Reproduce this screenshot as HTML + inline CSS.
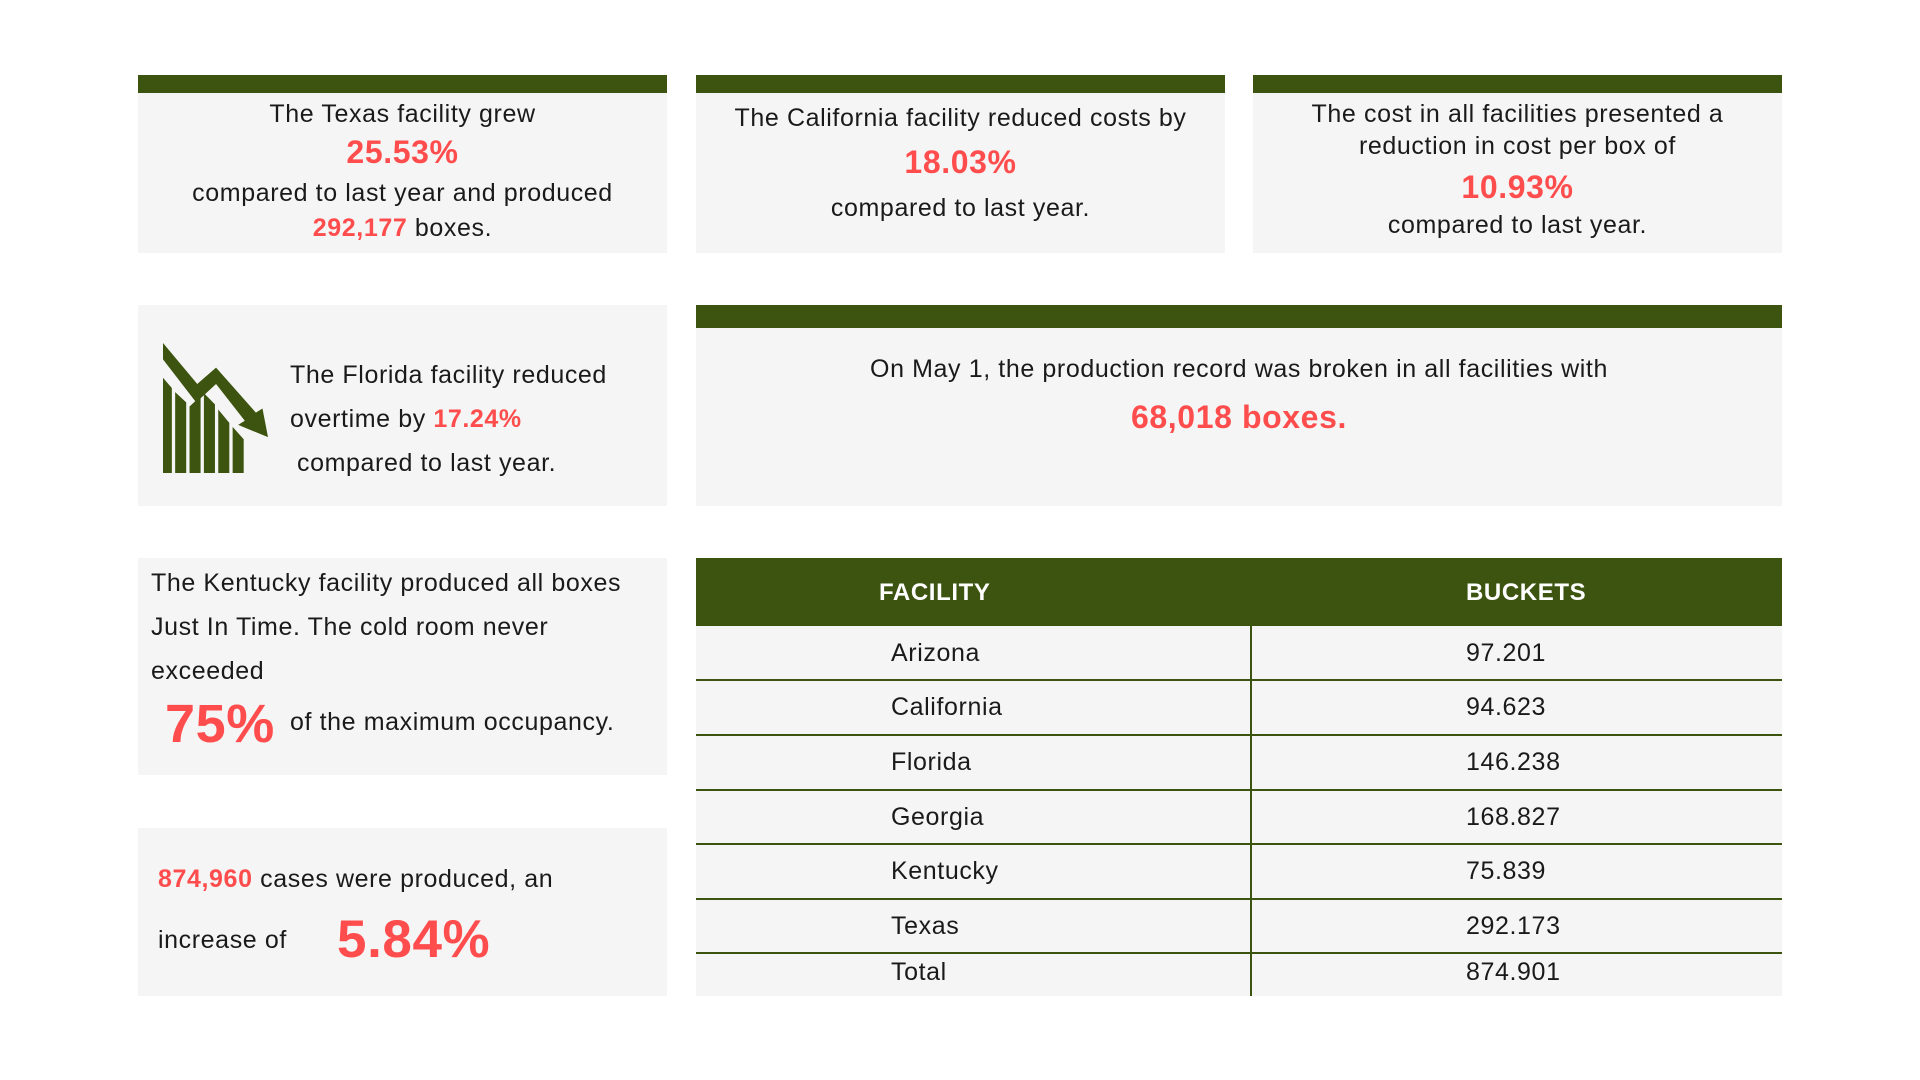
<!DOCTYPE html>
<html><head><meta charset="utf-8"><style>
body{margin:0;width:1920px;height:1080px;background:#fff;font-family:"Liberation Sans",sans-serif;color:#1a1a1a;position:relative;overflow:hidden}
.c{position:absolute;background:#f5f5f5}
.bar{position:absolute;left:0;right:0;top:0;height:18px;background:#3d5410}
.t{position:absolute;left:0;right:0;text-align:center;font-size:25px;line-height:30px;white-space:nowrap;letter-spacing:0.6px}
.r{color:#ff4d4d;font-weight:bold}
.big{font-size:32px}
.a{position:absolute;font-size:25px;line-height:30px;white-space:nowrap;letter-spacing:0.6px}
.hl{position:absolute;left:696px;width:1086px;height:2px;background:#3d5410}
</style></head><body>

<div class="c" style="left:138px;top:75px;width:529px;height:178px">
<div class="bar"></div>
<div class="t" style="top:24px">The Texas facility grew</div>
<div class="t r big" style="top:62px">25.53%</div>
<div class="t" style="top:103px">compared to last year and produced</div>
<div class="t" style="top:138px"><span class="r">292,177</span> boxes.</div>
</div>

<div class="c" style="left:696px;top:75px;width:529px;height:178px">
<div class="bar"></div>
<div class="t" style="top:28px">The California facility reduced costs by</div>
<div class="t r big" style="top:72px">18.03%</div>
<div class="t" style="top:118px">compared to last year.</div>
</div>

<div class="c" style="left:1253px;top:75px;width:529px;height:178px">
<div class="bar"></div>
<div class="t" style="top:24px">The cost in all facilities presented a</div>
<div class="t" style="top:56px">reduction in cost per box of</div>
<div class="t r big" style="top:97px">10.93%</div>
<div class="t" style="top:135px">compared to last year.</div>
</div>

<div class="c" style="left:138px;top:305px;width:529px;height:201px">
<svg style="position:absolute;left:25px;top:38px" width="105" height="130" viewBox="0 0 95 127" preserveAspectRatio="none">
<g fill="#3d5410">
<polygon points="0,34 0,127 8,127 8,44"/>
<polygon points="11,48 11,127 21,127 21,58 "/>
<polygon points="24,62 24,127 34,127 34,52"/>
<polygon points="37,49 37,127 47,127 47,60"/>
<polygon points="50,65 50,127 60,127 60,78"/>
<polygon points="63,82 63,127 73,127 73,94"/>
<polygon points="0,0 0,16 30,58 48,40 74,76 68,80 95,92 90,64 84,68 48,24 31,40"/>
</g></svg>
<div class="a" style="left:152px;top:55px">The Florida facility reduced</div>
<div class="a" style="left:152px;top:99px">overtime by <span class="r">17.24%</span></div>
<div class="a" style="left:159px;top:143px">compared to last year.</div>
</div>

<div class="c" style="left:696px;top:305px;width:1086px;height:201px">
<div class="bar" style="height:23px"></div>
<div class="t" style="top:49px">On May 1, the production record was broken in all facilities with</div>
<div class="t r big" style="top:97px">68,018 boxes.</div>
</div>

<div class="c" style="left:138px;top:558px;width:529px;height:217px">
<div class="a" style="left:13px;top:10px">The Kentucky facility produced all boxes</div>
<div class="a" style="left:13px;top:54px">Just In Time. The cold room never</div>
<div class="a" style="left:13px;top:98px">exceeded</div>
<div class="a r" style="left:27px;top:136px;font-size:54px;line-height:60px">75%</div>
<div class="a" style="left:152px;top:149px">of the maximum occupancy.</div>
</div>

<div class="c" style="left:138px;top:828px;width:529px;height:168px">
<div class="a" style="left:20px;top:36px"><span class="r">874,960</span> cases were produced, an</div>
<div class="a" style="left:20px;top:97px">increase of</div>
<div class="a r" style="left:199px;top:80px;font-size:53px;line-height:64px">5.84%</div>
</div>

<div class="c" style="left:696px;top:558px;width:1086px;height:438px"></div>
<div style="position:absolute;left:696px;top:558px;width:1086px;height:68px;background:#3d5410"></div>
<div class="a" style="left:879px;top:578px;color:#fff;font-weight:bold;font-size:24px">FACILITY</div>
<div class="a" style="left:1466px;top:578px;color:#fff;font-weight:bold;font-size:24px">BUCKETS</div>
<div style="position:absolute;left:1250px;top:626px;width:2px;height:370px;background:#3d5410"></div>
<div class="hl" style="top:679px"></div>
<div class="hl" style="top:734px"></div>
<div class="hl" style="top:789px"></div>
<div class="hl" style="top:843px"></div>
<div class="hl" style="top:898px"></div>
<div class="hl" style="top:952px"></div>
<div class="a" style="left:891px;top:638px">Arizona</div><div class="a" style="left:1466px;top:638px">97.201</div>
<div class="a" style="left:891px;top:692px">California</div><div class="a" style="left:1466px;top:692px">94.623</div>
<div class="a" style="left:891px;top:747px">Florida</div><div class="a" style="left:1466px;top:747px">146.238</div>
<div class="a" style="left:891px;top:802px">Georgia</div><div class="a" style="left:1466px;top:802px">168.827</div>
<div class="a" style="left:891px;top:856px">Kentucky</div><div class="a" style="left:1466px;top:856px">75.839</div>
<div class="a" style="left:891px;top:911px">Texas</div><div class="a" style="left:1466px;top:911px">292.173</div>
<div class="a" style="left:891px;top:957px">Total</div><div class="a" style="left:1466px;top:957px">874.901</div>
</body></html>
